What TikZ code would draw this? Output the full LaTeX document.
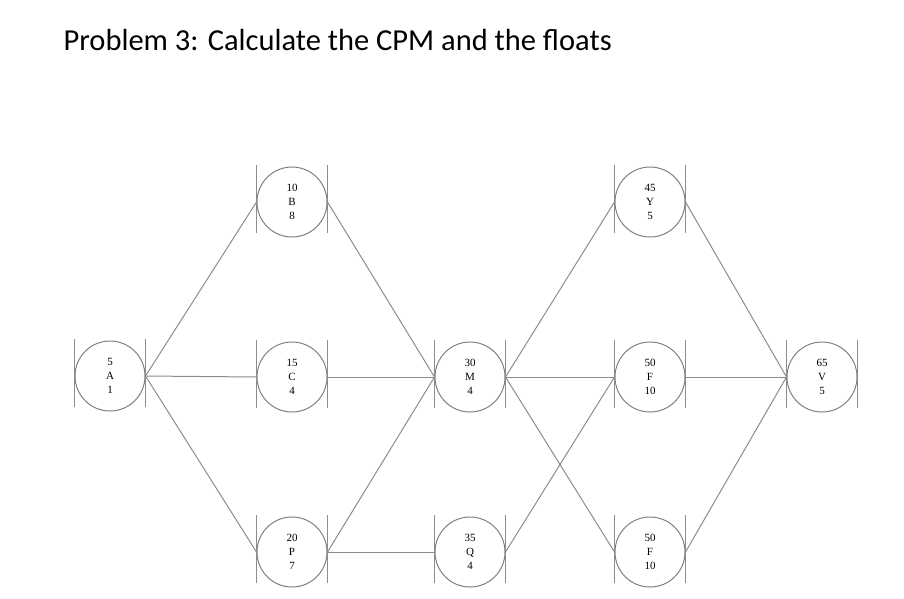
\documentclass[tikz,border=0pt]{standalone}
\usepackage{fontspec}
\setmainfont{Liberation Serif}
\newfontfamily\titlefont{Carlito}
\begin{document}
\begin{tikzpicture}[x=1pt,y=-1pt,
  act/.style={circle,draw=gray,line width=1pt,minimum size=70pt,inner sep=0pt,align=center,font=\fontsize{11}{14}\selectfont},
  ln/.style={draw=gray!90,line width=1pt}]
\useasboundingbox (0,0) rectangle (904,598);
\node[anchor=base west,font=\titlefont\fontsize{30.5}{34}\selectfont] (title) at (60,50) {Problem 3: Calculate the CPM and the floats};
\node[act] (A) at (110,376) {5\\A\\1};
\node[act] (B) at (292,202) {10\\B\\8};
\node[act] (C) at (292,377) {15\\C\\4};
\node[act] (P) at (292,552) {20\\P\\7};
\node[act] (M) at (470,377) {30\\M\\4};
\node[act] (Q) at (470,552) {35\\Q\\4};
\node[act] (Y) at (650,202) {45\\Y\\5};
\node[act] (F) at (650,377) {50\\F\\10};
\node[act] (G) at (650,552) {50\\F\\10};
\node[act] (V) at (822,377) {65\\V\\5};
\foreach \n in {A,B,C,P,M,Q,Y,F,G,V}{
  \draw[ln] ([yshift=37pt]\n.east) -- ([yshift=-31pt]\n.east);
  \draw[ln] ([yshift=37pt]\n.west) -- ([yshift=-31pt]\n.west);
}
\foreach \a/\b in {A/B,A/C,A/P,B/M,C/M,P/M,P/Q,M/Y,M/F,M/G,Q/F,Y/V,F/V,G/V}
  \draw[ln] (\a.east) -- (\b.west);
\end{tikzpicture}
\end{document}
